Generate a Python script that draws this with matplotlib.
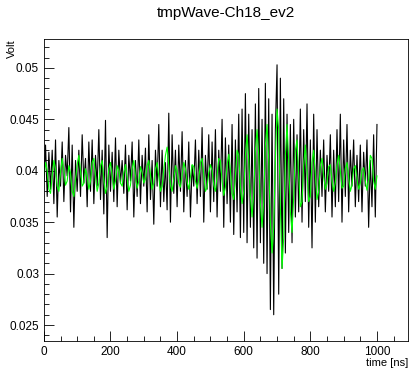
import numpy as np
import matplotlib
matplotlib.use("Agg")
import matplotlib.pyplot as plt
from matplotlib.ticker import MultipleLocator

# sample times [ns], one every 5 ns
time_ns = np.arange(0, 1001, 5)

# raw waveform (mV)
wave_mv = [
    39.0, 42.5, 37.5, 41.8, 38.2, 42.0, 36.8, 43.0, 35.5, 41.0, 38.5, 42.8, 37.0, 41.5, 39.5, 44.2, 36.0, 42.5, 34.5, 41.0, 38.0,
    42.0, 37.5, 43.5, 38.8, 41.2, 36.5, 42.8, 38.0, 43.0, 36.8, 41.5, 38.5, 44.0, 37.2, 42.0, 35.8, 44.9, 33.5, 42.5, 38.0,
    41.8, 37.0, 43.2, 36.5, 42.0, 38.8, 41.0, 37.8, 42.5, 36.2, 41.5, 39.0, 42.8, 35.5, 41.0, 37.5, 43.0, 36.8, 41.5, 38.5,
    42.2, 36.0, 43.5, 37.2, 41.0, 34.8, 42.0, 38.5, 44.5, 36.5, 42.0, 37.0, 40.8, 36.2, 45.6, 35.0, 43.5, 37.8, 42.0, 36.5,
    42.5, 38.0, 43.8, 36.0, 41.0, 37.5, 42.8, 35.5, 40.5, 38.5, 43.0, 36.8, 42.0, 37.5, 44.2, 35.0, 41.5, 38.2, 43.5, 36.0,
    42.8, 37.0, 44.0, 35.5, 42.0, 38.0, 45.0, 34.5, 43.2, 36.8, 42.5, 35.0, 44.5, 33.8, 43.0, 36.0, 45.5, 33.5, 46.0, 34.0,
    47.5, 33.0, 45.5, 34.5, 44.0, 32.5, 46.5, 31.5, 48.0, 33.0, 45.0, 31.0, 48.5, 30.0, 47.0, 26.5, 45.5, 26.0, 44.0, 50.3,
    28.0, 49.0, 30.5, 47.0, 32.0, 45.5, 34.0, 44.5, 33.0, 45.0, 35.5, 43.5, 36.0, 46.0, 35.0, 44.0, 37.0, 46.5, 34.5, 43.0,
    32.5, 45.5, 35.0, 44.0, 36.5, 42.0, 37.5, 43.0, 36.0, 41.5, 38.0, 43.5, 35.5, 42.0, 36.5, 44.0, 37.0, 45.5, 35.0, 43.0,
    37.5, 44.5, 36.0, 42.0, 38.5, 43.0, 36.5, 41.5, 37.0, 42.5, 36.0, 41.8, 38.5, 43.0, 34.5, 41.0, 36.5, 43.5, 35.5, 44.5,
]

# smoothed waveform (mV), green trace
smooth_mv = [
    39.5, 40.8, 40.0, 38.2, 37.8, 39.5, 41.0, 40.2, 38.5, 38.0, 39.8, 41.2, 40.0, 38.6, 39.0, 40.5, 39.8, 38.0, 37.5, 39.2, 40.6,
    41.5, 40.0, 38.5, 38.8, 40.2, 39.5, 38.2, 39.0, 40.8, 41.2, 39.5, 38.0, 38.8, 40.5, 41.0, 39.2, 37.8, 38.5, 40.2, 40.8,
    39.5, 38.2, 39.0, 40.5, 40.0, 38.8, 38.5, 39.8, 40.6, 39.4, 38.0, 38.6, 40.2, 41.0, 39.5, 38.3, 39.0, 40.4, 39.8, 38.8,
    39.2, 40.5, 41.0, 39.6, 38.2, 38.8, 40.2, 40.8, 39.4, 38.0, 38.5, 40.0, 41.5, 42.3, 40.5, 38.6, 38.0, 39.2, 40.5, 40.0,
    38.8, 38.4, 39.6, 40.8, 40.2, 38.9, 38.2, 39.4, 40.6, 40.4, 39.0, 38.3, 39.2, 40.8, 41.2, 39.6, 38.0, 38.4, 39.8, 40.6,
    40.0, 38.6, 38.0, 39.5, 41.2, 41.0, 39.0, 37.6, 38.4, 40.6, 41.6, 40.0, 37.8, 37.2, 39.5, 42.0, 41.5, 38.5, 36.8, 38.0,
    41.5, 43.5, 41.0, 37.5, 35.5, 37.8, 42.0, 44.0, 41.5, 36.8, 34.5, 37.0, 42.5, 44.5, 41.0, 35.0, 32.0, 34.5, 41.0, 46.0,
    44.0, 36.5, 30.5, 33.5, 41.5, 44.5, 41.0, 36.0, 34.0, 37.5, 42.0, 43.0, 39.5, 36.5, 37.0, 40.5, 42.5, 40.0, 37.0, 37.5,
    40.8, 42.0, 39.6, 37.2, 38.0, 40.5, 41.2, 39.5, 38.2, 38.8, 40.4, 40.6, 39.0, 38.0, 38.9, 40.6, 41.5, 40.0, 38.3, 38.5,
    40.2, 40.8, 39.4, 38.0, 38.6, 40.2, 40.5, 39.2, 38.2, 38.8, 40.0, 40.3, 39.0, 38.1, 39.2, 41.5, 41.2, 39.0, 38.2, 39.5,
]

wave = np.array(wave_mv) / 1000.0
smooth = np.array(smooth_mv) / 1000.0

plt.rcParams["font.family"] = ["Liberation Sans", "DejaVu Sans"]

fig = plt.figure(figsize=(4.10, 3.69), dpi=100)
ax = fig.add_axes([0.107, 0.076, 0.888, 0.818])

ax.plot(time_ns, wave, color="black", linewidth=0.8)
ax.plot(time_ns, smooth, color="#00ff00", linewidth=0.8)

ax.set_xlim(0, 1093)
ax.set_ylim(0.02345, 0.0528)

# ROOT-like ticks: inside, only left and bottom
ax.xaxis.set_major_locator(MultipleLocator(200))
ax.xaxis.set_minor_locator(MultipleLocator(50))
ax.yaxis.set_major_locator(MultipleLocator(0.005))
ax.yaxis.set_minor_locator(MultipleLocator(0.001))
ax.tick_params(which="both", direction="in", top=False, right=False, labelsize=8.5, width=0.6)
ax.tick_params(which="major", length=7)
ax.tick_params(which="minor", length=3.5)
ax.yaxis.set_major_formatter(plt.FuncFormatter(lambda v, p: f"{v:g}"))
for s in ax.spines.values():
    s.set_linewidth(0.6)

fig.text(0.55, 0.965, "tmpWave-Ch18_ev2", ha="center", va="center", fontsize=11)
fig.text(0.03, 0.894, "Volt", rotation=90, ha="center", va="top", fontsize=8)
fig.text(0.995, 0.016, "time [ns]", ha="right", va="center", fontsize=8)

fig.savefig("out.png", dpi=100)
